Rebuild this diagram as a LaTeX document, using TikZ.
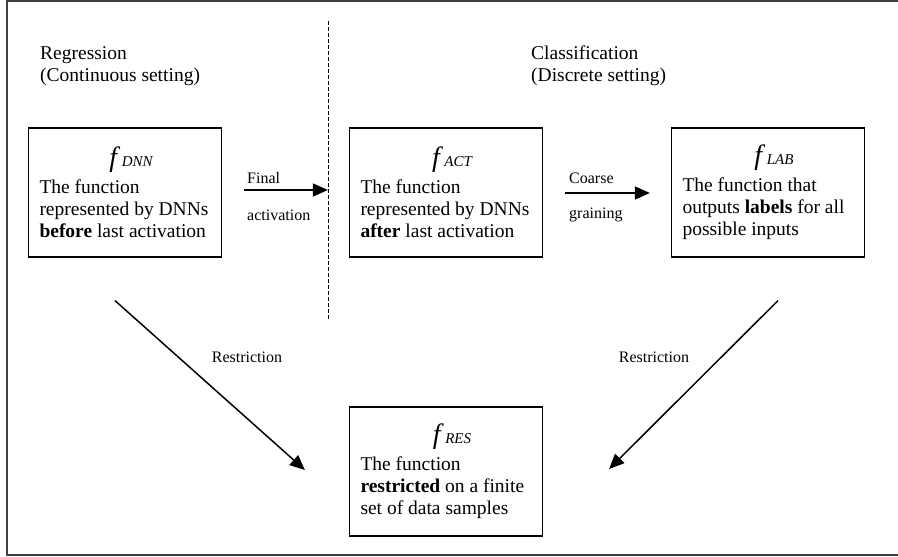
\documentclass[tikz,border=0pt]{standalone}
\usepackage{fontspec}
\setmainfont{Liberation Serif}
\usetikzlibrary{arrows.meta,positioning}

\newcommand\fname[1]{\makebox[171pt]{\hspace{12pt}\fontsize{28}{28}\selectfont\itshape f\,{\fontsize{15}{15}\selectfont #1}}}

\begin{document}
\begin{tikzpicture}[x=1pt, y=-1pt,
    fbox/.style={draw, line width=1.2pt, minimum width=193pt, minimum height=129pt, inner sep=0pt,
        align=left, font=\fontsize{19.5}{22}\selectfont},
    head/.style={align=left, inner sep=0pt, font=\fontsize{19.5}{22}\selectfont},
    lbl/.style={inner sep=0pt, font=\fontsize{16}{18}\selectfont},
    arr/.style={line width=1.5pt, -{Triangle[length=15pt, width=13pt]}}]
    \useasboundingbox (0,0) rectangle (898,557);

    % Frame and divider
    \draw[line width=1.5pt, black!75] (898,1) -- (7,1) -- (7,555) -- (898,555);
    \draw[line width=1pt, dash pattern=on 4pt off 2pt] (328,21) -- (328,320);

    % Settings
    \node[head, anchor=west] (reg) at (40,66) {Regression\\(Continuous setting)};
    \node[head, anchor=west] (cls) at (531,66) {Classification\\(Discrete setting)};

    % Functions
    \node[fbox] (dnn) at (125,192.5) {\fname{DNN}\\[5pt]
        The function\\represented by DNNs\\\textbf{before} last activation};
    \node[fbox] (act) at (446,192.5) {\fname{ACT}\\[5pt]
        The function\\represented by DNNs\\\textbf{after} last activation};
    \node[fbox] (lab) at (768,192.5) {\fname{LAB}\\[5pt]
        The function that\\outputs \textbf{labels} for all\\possible inputs};
    \node[fbox] (res) at (446,471.5) {\fname{RES}\\[5pt]
        The function\\\textbf{restricted} on a finite\\set of data samples};

    % Arrows
    \draw[arr] ([shift={(22,-2.5)}]dnn.east) -- ([shift={(-21,-2.5)}]act.west);
    \node[lbl, anchor=west] (fin) at (247,178) {Final};
    \node[lbl, anchor=west] (fact) at (247,215) {activation};

    \draw[arr] ([shift={(22,0.5)}]act.east) -- ([shift={(-21,0.5)}]lab.west);
    \node[lbl, anchor=west] (coa) at (569,178) {Coarse};
    \node[lbl, anchor=west] (gra) at (569,215) {graining};

    \draw[arr] ([shift={(-10,43)}]dnn.south) -- ([shift={(-44,-1.5)}]res.west);
    \node[lbl] (resl) at (247,357) {Restriction};
    \draw[arr] ([shift={(10,43)}]lab.south) -- ([shift={(66,-2.5)}]res.east);
    \node[lbl] (resr) at (654,357) {Restriction};
\end{tikzpicture}
\end{document}
